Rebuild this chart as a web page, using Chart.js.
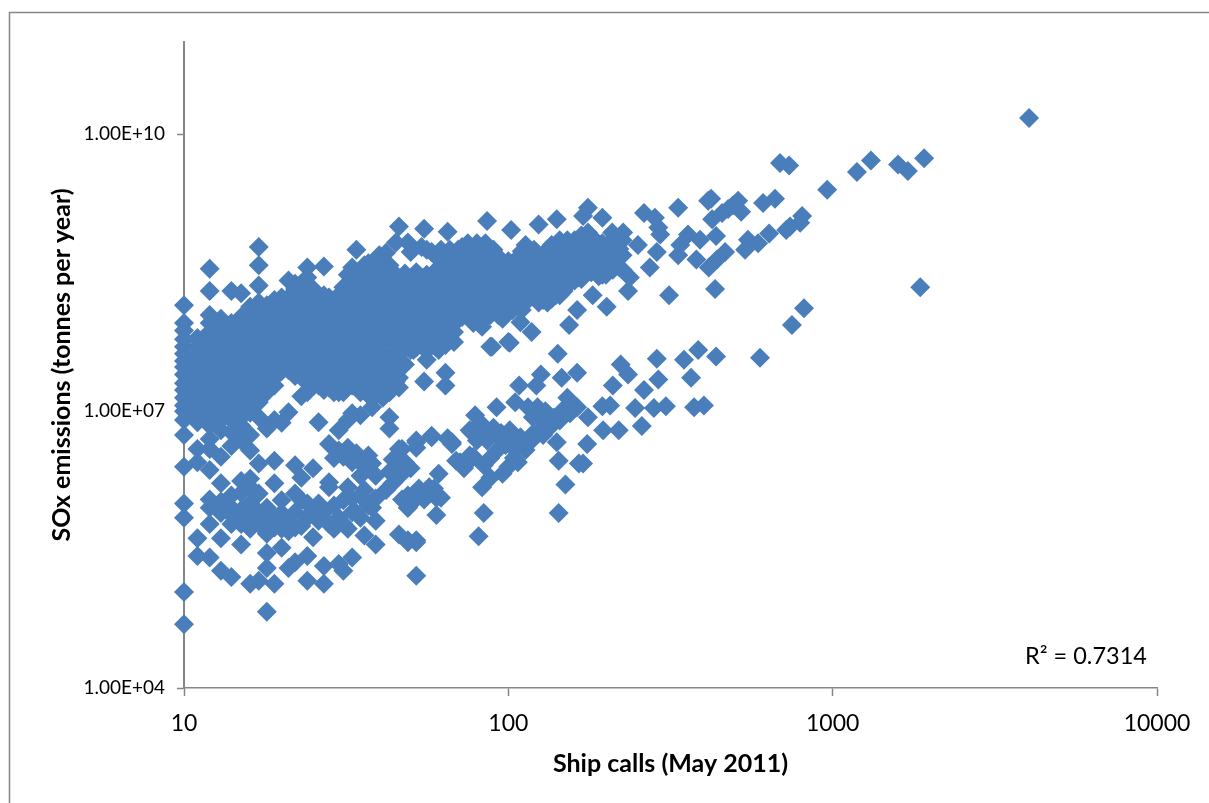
<!DOCTYPE html>
<html>
<head>
<meta charset="utf-8">
<title>SOx emissions vs ship calls</title>
<script src="https://cdn.jsdelivr.net/npm/chart.js@4/dist/chart.umd.min.js"></script>
<style>
  html, body { margin: 0; padding: 0; background: #fff; }
  canvas { display: block; }
</style>
</head>
<body>
<canvas id="myChart" width="1209" height="803"></canvas>
<script>
// values: [ship calls, tonnes per year]
var xTicks = [10, 100, 1000, 10000];
var yTicks = [1e4, 1e7, 1e10];
var xTitle = "Ship calls (May 2011)";
var yTitle = "SOx emissions (tonnes per year)";
var rSquared = "R² = 0.7314";

var farRight = [
  [4033,1.5e10],[1914,5.5e9],[1312,5.2e9],[1591,4.7e9],[1706,4e9],[1188,3.9e9],[962,2.5e9],[688,4.9e9],[734,4.6e9],
  [664,2e9],[511,1.9e9],[493,1.7e9],[476,1.55e9],[522,1.45e9],[456,1.4e9],[422,2e9],[413,1.9e9],[425,1.2e9],[610,1.8e9],
  [805,1.3e9],[794,1.1e9],[739,1e9],[637,8.4e8],[719,9.2e8],[437,7.9e8],[548,7.2e8],[537,5.6e8],[589,6.6e8],[390,7.2e8],
  [466,5.3e8],[440,4.4e8],[415,3.6e8],[380,4.4e8],[434,2.1e8],[1862,2.2e8],[816,1.3e8],[749,8.6e7],[597,3.8e7],[437,3.9e7]
];

var upperSparse = [
  [86,1.15e9],[102,9.2e8],[124,1.05e9],[141,1.2e9],[176,1.6e9],[170,1.3e9],[195,1.25e9],[262,1.4e9],[283,1.25e9],[334,1.6e9],
  [290,9.8e8],[294,8.2e8],[358,8.2e8],[339,6.3e8],[334,4.9e8],[287,5.3e8],[273,3.6e8],[251,6.3e8],[226,8.6e8],[209,8.6e8],
  [237,2.8e8],[234,2e8],[182,1.8e8],[201,1.35e8],[163,1.25e8],[154,8.6e7],[313,1.8e8],[109,9.2e7],[118,7.2e7],[100,5.6e7],
  [88,5e7],[96,1e8],[83,8.2e7],[46,1e9],[55,9.5e8],[65,8.8e8],[34,5.6e8],[17,6e8],[17,3.8e8],[12,3.5e8],[17,2.3e8],[12,2e8],
  [14,2e8],[15,1.9e8],[10,1.4e8],[27,3.7e8],[24,3.6e8],[21,2.6e8],[19,1.6e8],[12,1.1e8],[10,9e7],[45,6.7e8],[49,6.7e8],
  [42,5.2e8],[37,4e8],[33,3.6e8],[24,2.8e8],[22,2.4e8],[25,2.1e8],[28,1.7e8],[21,1.7e8],[16,1.35e8],[15,1.05e8],[14,9e7]
];

var denseBand = [
  [10,7.5e7],[10,6e7],[10,5e7],[10,4.2e7],[10,3.5e7],[10,3e7],[10,2.5e7],[10,2e7],[10,1.7e7],[10,1.4e7],[10,1.15e7],[10,1e7],[10,8e6],[10,5.5e6],
  [11,5.9e7],[11,4.9e7],[11,3.4e7],[11,2.8e7],[11,1.9e7],[11,1.5e7],[11,1.05e7],[11,7.6e6],
  [12,9e7],[12,6e7],[12,4.5e7],[12,3e7],[12,2.2e7],[12,1.5e7],[12,1e7],[12,7e6],
  [13,1e8],[13,7e7],[13,4.8e7],[13,3.3e7],[13,2.3e7],[13,1.6e7],[13,1.1e7],[13,8e6],
  [14,6.2e7],[14,4.3e7],[14,2.9e7],[14,2e7],[14,1.4e7],[14,9.5e6],
  [15,7.8e7],[15,5.4e7],[15,3.7e7],[15,2.5e7],[15,1.7e7],[15,1.2e7],[15,8.5e6],
  [16,9.2e7],[16,6.3e7],[16,4.3e7],[16,3e7],[16,2e7],[16,1.4e7],[16,9.6e6],
  [17,1.5e8],[17,1e8],[17,7e7],[17,4e7],[17,3.2e7],[17,2.2e7],[17,1.5e7],
  [18,1.4e8],[18,9.5e7],[18,6.7e7],[18,4.6e7],[18,3.1e7],[18,2.2e7],[18,1.6e7],
  [19,1.05e8],[19,7.2e7],[19,4.9e7],[19,3.4e7],[19,2.3e7],
  [20,1.7e8],[20,1.15e8],[20,8e7],[20,5.5e7],[20,3.8e7],[20,2.7e7],
  [21,1.25e8],[21,8.6e7],[21,5.9e7],[21,4e7],[21,2.8e7],
  [22,2.1e8],[22,1.45e8],[22,1e8],[22,6.7e7],[22,4.6e7],[22,3.1e7],[22,2.4e7],
  [23,2.4e8],[23,1.65e8],[23,1.15e8],[23,7.8e7],[23,5.2e7],[23,3.6e7],[23,2.5e7],
  [24,1.8e8],[24,1.25e8],[24,8.6e7],[24,5.9e7],[24,4e7],[24,2.8e7],[24,2e7],
  [25,1.9e8],[25,1.3e8],[25,9e7],[25,6.2e7],[25,4.3e7],[25,3e7],[25,2.1e7],
  [26,1.7e8],[26,1.2e8],[26,8.2e7],[26,5.6e7],[26,3.9e7],[26,2.7e7],[26,1.9e7],
  [27,1.8e8],[27,1.25e8],[27,8.6e7],[27,5.9e7],[27,4e7],[27,2.8e7],[27,1.9e7],[27,1.7e7],
  [28,1.15e8],[28,7.8e7],[28,5.4e7],[28,3.7e7],[28,2.6e7],[28,1.8e7],
  [30,1.8e8],[30,1.25e8],[30,8.6e7],[30,5.9e7],[30,4e7],[30,2.8e7],[30,1.9e7],
  [32,3e8],[32,2.1e8],[32,1.45e8],[32,1e8],[32,6.8e7],[32,4.6e7],[32,3.2e7],[32,2.2e7],
  [34,2.5e8],[34,1.7e8],[34,1.2e8],[34,8e7],[34,5.5e7],[34,3.8e7],[34,2.6e7],[34,1.8e7],
  [36,3.8e8],[36,2.6e8],[36,1.8e8],[36,1.25e8],[36,8.6e7],[36,5.9e7],[36,4e7],[36,2.8e7],[36,1.9e7],
  [38,2.8e8],[38,1.9e8],[38,1.3e8],[38,9e7],[38,6.2e7],[38,4.2e7],[38,3e7],[38,2e7],[38,1.6e7],
  [40,4.9e8],[40,3.4e8],[40,2.3e8],[40,1.6e8],[40,1.1e8],[40,7.6e7],[40,5.2e7],[40,3.6e7],[40,2.5e7],[40,1.7e7],
  [43,3.8e8],[43,2.6e8],[43,1.8e8],[43,1.25e8],[43,8.6e7],[43,5.9e7],[43,4e7],[43,2.8e7],[43,1.9e7],[43,1.6e7],
  [46,2.3e8],[46,1.6e8],[46,1.1e8],[46,7.4e7],[46,5e7],[46,3.6e7],
  [50,5.3e8],[50,2.5e8],[50,1.7e8],[50,1.15e8],[50,8e7],[50,5.5e7],[50,4.6e7],
  [54,6e8],[54,2.8e8],[54,1.9e8],[54,1.3e8],[54,9e7],[54,6.2e7],[54,5.2e7],
  [58,5.3e8],[58,3e8],[58,2.1e8],[58,1.45e8],[58,1e8],[58,6.8e7],[58,5.7e7],
  [62,5.6e8],[62,3.8e8],[62,2.6e8],[62,1.8e8],[62,1.25e8],[62,8.6e7],[62,5.9e7],
  [66,5.6e8],[66,3.6e8],[66,2.5e8],[66,1.7e8],[66,1.15e8],[66,8e7],
  [70,5.6e8],[70,3.8e8],[70,2.6e8],[70,1.8e8],[70,1.25e8],[70,9.8e7],
  [75,6.6e8],[75,4.6e8],[75,3.1e8],[75,2.1e8],[75,1.45e8],[75,1.1e8],
  [80,6.6e8],[80,4.3e8],[80,3e8],[80,2e8],[80,1.4e8],[80,1.05e8],
  [85,6.6e8],[85,4.6e8],[85,3.1e8],[85,2.1e8],[85,1.45e8],[85,1.1e8],
  [90,5.6e8],[90,3.8e8],[90,2.6e8],[90,1.8e8],[90,1.25e8],
  [95,4.1e8],[95,2.8e8],[95,1.9e8],[95,1.3e8],
  [100,4.2e8],[100,2.9e8],[100,2e8],[100,1.4e8],
  [107,4.6e8],[107,3.1e8],[107,2.1e8],[107,1.45e8],
  [113,6.3e8],[113,4.3e8],[113,3e8],[113,2e8],[113,1.6e8],
  [120,5.6e8],[120,3.8e8],[120,2.6e8],[120,1.8e8],
  [128,4.9e8],[128,3.4e8],[128,2.3e8],[128,1.6e8],
  [136,6.3e8],[136,4.3e8],[136,3e8],[136,2e8],[136,1.65e8],
  [144,7.1e8],[144,4.9e8],[144,3.4e8],[144,2.3e8],[144,1.8e8],
  [152,7.1e8],[152,4.9e8],[152,3.4e8],[152,2.3e8],
  [160,7.1e8],[160,4.7e8],[160,3.2e8],[160,2.6e8],
  [168,8e8],[168,5.6e8],[168,3.8e8],[168,2.7e8],
  [176,8.6e8],[176,5.9e8],[176,4.1e8],[176,3.4e8],
  [185,7.1e8],[185,4.9e8],[185,3.4e8],
  [195,6.6e8],[195,4.6e8],[195,3e8],
  [205,6.6e8],[205,4.2e8],
  [215,7.1e8],[215,4.4e8],
  [225,7.1e8],[225,4.9e8],[225,3.4e8]
];

var denseBandExtra = [
  [11,6.2e7],[11,4e7],[11,2.3e7],[11,1.7e7],[11,1.2e7],[11,9e6],
  [12,7.2e7],[12,5.2e7],[12,3.6e7],[12,2.6e7],[12,1.8e7],[12,1.25e7],[12,8.5e6],
  [13,8.3e7],[13,5.8e7],[13,4e7],[13,2.8e7],[13,1.9e7],[13,1.3e7],[13,9.3e6],
  [14,7.4e7],[14,5.2e7],[14,3.6e7],[14,2.4e7],[14,1.7e7],[14,1.15e7],[14,8e6],
  [15,9.4e7],[15,6.5e7],[15,4.5e7],[15,3.1e7],[15,2.1e7],[15,1.45e7],[15,1e7],
  [16,1.1e8],[16,7.6e7],[16,5.2e7],[16,3.6e7],[16,2.4e7],[16,1.7e7],[16,1.15e7],
  [17,1.2e8],[17,8.5e7],[17,5.6e7],[17,2.6e7],[17,1.8e7],[17,1.25e7],
  [18,1.15e8],[18,8e7],[18,5.6e7],[18,3.8e7],[18,2.6e7],
  [19,1.25e8],[19,8.6e7],[19,5.9e7],[19,4e7],[19,2.8e7],[19,1.9e7],
  [20,1.4e8],[20,9.6e7],[20,6.5e7],[20,4.5e7],[20,3.1e7],
  [21,1.05e8],[21,7.2e7],[21,4.9e7],[21,3.4e7],
  [29,1.5e8],[29,1.05e8],[29,7.2e7],[29,4.9e7],[29,3.4e7],[29,2.3e7],[29,1.6e7],
  [31,2.2e8],[31,1.5e8],[31,1.05e8],[31,7.2e7],[31,4.9e7],[31,3.4e7],[31,2.3e7],[31,1.6e7],
  [33,2.6e8],[33,1.8e8],[33,1.25e8],[33,8.6e7],[33,5.9e7],[33,4e7],[33,2.8e7],[33,1.9e7],
  [35,3.2e8],[35,2.2e8],[35,1.5e8],[35,1.05e8],[35,7.2e7],[35,4.9e7],[35,3.4e7],[35,2.3e7],[35,1.6e7],
  [37,3.1e8],[37,2.1e8],[37,1.45e8],[37,1e8],[37,6.8e7],[37,4.7e7],[37,3.2e7],[37,2.2e7],[37,1.5e7],
  [39,4.2e8],[39,2.9e8],[39,2e8],[39,1.4e8],[39,9.6e7],[39,6.5e7],[39,4.5e7],[39,3.1e7],[39,2.1e7],[39,1.5e7],
  [41,4e8],[41,2.8e8],[41,1.9e8],[41,1.3e8],[41,9e7],[41,6.2e7],[41,4.2e7],[41,3e7],[41,2e7],[41,1.4e7],
  [45,3e8],[45,2.1e8],[45,1.4e8],[45,9.6e7],[45,6.5e7],[45,4.5e7],[45,3.1e7],[45,2.1e7],
  [48,3.1e8],[48,2.1e8],[48,1.45e8],[48,1e8],[48,6.8e7],[48,4.7e7],[48,3.2e7],
  [52,3.2e8],[52,2.2e8],[52,1.5e8],[52,1.05e8],[52,7.2e7],[52,4.9e7],
  [56,5.6e8],[56,3e8],[56,2.1e8],[56,1.4e8],[56,9.6e7],[56,6.5e7],[56,4.5e7],
  [60,4.7e8],[60,3.2e8],[60,2.2e8],[60,1.5e8],[60,1.05e8],[60,7.2e7],[60,4.9e7],
  [64,4.7e8],[64,3.2e8],[64,2.2e8],[64,1.5e8],[64,1.05e8],[64,7.2e7],[64,5.2e7],
  [68,4.7e8],[68,3.2e8],[68,2.2e8],[68,1.5e8],[68,1.05e8],[68,7.2e7],
  [72,6e8],[72,4.7e8],[72,3.2e8],[72,2.2e8],[72,1.5e8],[72,1.05e8],
  [78,5.6e8],[78,3.8e8],[78,2.6e8],[78,1.8e8],[78,1.25e8],[78,9e7],
  [83,5.6e8],[83,3.8e8],[83,2.6e8],[83,1.8e8],[83,1.25e8],[83,9.6e7],
  [88,5.2e8],[88,3.4e8],[88,2.3e8],[88,1.6e8],[88,1.1e8],
  [93,4.7e8],[93,3.2e8],[93,2.2e8],[93,1.5e8],[93,1.1e8],
  [98,3.4e8],[98,2.3e8],[98,1.6e8],[98,1.15e8],
  [103,3.8e8],[103,2.6e8],[103,1.8e8],[103,1.25e8],
  [110,5.4e8],[110,3.7e8],[110,2.5e8],[110,1.7e8],[110,1.25e8],
  [116,5.2e8],[116,3.5e8],[116,2.4e8],[116,1.65e8],
  [124,4.6e8],[124,3.1e8],[124,2.1e8],[124,1.5e8],
  [132,5.6e8],[132,3.8e8],[132,2.6e8],[132,1.8e8],[132,1.5e8],
  [140,5.6e8],[140,3.8e8],[140,2.6e8],[140,1.8e8],
  [148,6e8],[148,4.1e8],[148,2.8e8],[148,2e8],
  [156,6e8],[156,4.1e8],[156,2.8e8],
  [164,5.8e8],[164,3.9e8],[164,2.8e8],
  [172,7e8],[172,4.7e8],[172,3.2e8],
  [180,6.6e8],[180,4.6e8],[180,3.2e8],
  [190,5.6e8],[190,3.8e8],[190,2.9e8],
  [200,5.6e8],[200,3.8e8],[200,3e8],
  [210,5.4e8],[210,3.4e8],
  [220,5.7e8],[220,3.6e8]
];

var middleBand = [
  [385,4.6e7],[348,3.6e7],[366,2.3e7],[374,1.1e7],[401,1.15e7],[287,3.7e7],[290,2.2e7],[262,1.7e7],[306,1.13e7],[281,1.08e7],
  [246,1.08e7],[258,6.9e6],[219,6.2e6],[196,6.2e6],[234,2.5e7],[222,3.2e7],[210,1.9e7],[195,1.13e7],[206,1.15e7],[176,8.6e6],
  [175,4.4e6],[163,2.6e7],[146,2.3e7],[142,4.2e7],[126,2.5e7],[122,1.9e7],[108,1.9e7],[105,1.25e7],[92,1.1e7],[163,1.1e7],
  [152,1.4e7],[152,1.1e7],[144,7.9e6],[132,9.4e6],[123,1.1e7],[119,8.6e6],[115,1.1e7],[141,4.6e6],[128,5.5e6],[143,2.9e6],
  [165,2.7e6],[170,2.7e6],[150,1.6e6],[143,7.9e5],[84,7.9e5],[81,4.4e5],[83,1.5e6],[96,2.1e6],[88,1.9e6],[84,2.6e6],[73,2.5e6],
  [69,2.9e6],[78,3.2e6],[104,3.1e6],[104,3.9e6],[111,4.5e6],[119,5.7e6],[101,6.2e6],[109,5.2e6],[94,5.2e6],[90,6.6e6],[86,4.8e6],
  [79,9e6],[82,7.5e6],[76,6.2e6],[80,4.8e6],[88,3.1e6],[67,4.6e6],[65,5.1e6],[58,5.2e6],[52,4.6e6],[47,3.9e6],[61,2.1e6],[57,1.5e6],
  [60,1.15e6],[49,9e5],[60,7.5e5],[52,4e5],[49,4e5],[55,2.1e7],[64,2.6e7],[64,1.9e7],[61,4.6e7],[68,5.6e7],[89,5e7],[101,5.5e7],
  [56,3.6e7],[51,4.6e7],[46,2.3e7],[46,1.8e7],
  [85,6e6],[95,5.8e6],[98,4.3e6],[92,3.7e6],[102,4.7e6],[113,3.8e6],[107,2.8e6],[100,2.5e6],[118,4.8e6],[125,6.2e6],[130,6.6e6],
  [135,6.8e6],[126,8e6],[138,8.5e6],[155,9.5e6],[146,1e7],[130,1e7]
];

var lowerLeft = [
  [10,2.5e6],[10,1e6],[10,7e5],[10,1.1e5],[10,4.9e4],[18,6.7e4],[52,1.65e5],[24,1.45e5],[27,1.35e5],[19,1.35e5],[16,1.35e5],[17,1.45e5],
  [14,1.6e5],[13,1.87e5],[12,2.6e5],[11,2.7e5],[11,4.2e5],[11,3.9e6],[12,2.3e6],[11,2.8e6],[13,1.65e6],[15,1.75e6],[16,1.85e6],[17,2.7e6],
  [19,2.9e6],[19,1.65e6],[22,2.6e6],[25,2.4e6],[23,1.9e6],[28,1.7e6],[28,4.4e6],[30,6.2e6],[26,7.6e6],[30,3.75e6],[34,3.5e6],[29,3.1e6],
  [36,2.5e6],[38,2.7e6],[39,2e6],[35,2e6],[46,3.9e6],[52,4e6],[52,4.8e6],[58,5.4e6],[65,5e6],[67,4.4e6],[71,2.8e6],[73,2.4e6],[76,3.3e6],
  [77,5.9e6],[45,2.4e6],[50,2.4e6],[44,1.65e6],[53,1.45e6],[49,1.22e6],[59,1.45e6],[62,1.15e6],[49,9e5],[52,1.13e6],[46,4.6e5],[49,3.8e5],
  [52,3.8e5],[39,3.6e5],[36,4.5e5],[39,6.5e5],[39,1.13e6],[37,9.5e5],[34,7.9e5],[33,1.13e6],[31,1.08e6],[32,5.3e5],[29,5.3e5],[25,4.3e5],
  [23,5.7e5],[26,6.5e5],[25,8.4e5],[23,1.08e6],[28,1.5e6],[26,1e6],[22,1.28e6],[20,1.08e6],[17,1.28e6],[16,1e6],[14,1.22e6],[12,9e5],
  [13,7.9e5],[12,6e5],[13,4.2e5],[15,3.6e5],[14,6e5],[16,5.3e5],[18,4.7e5],[20,5.3e5],[20,3.3e5],[18,2.9e5],[18,2e5],[24,2.7e5],[22,2.3e5],
  [21,2e5],[27,2.1e5],[30,2.2e5],[31,1.87e5],[33,2.6e5],[20,7.9e5],[12,5e6],[13,6.2e6],[14,5.9e6],[15,7e6],[16,5.5e6],[16,3.75e6],[13,3.2e6],
  [12,3.9e6],[15,4.8e6],[14,4.2e6],[18,6.5e6],[20,7.5e6],[32,8e6],[43,6.5e6],[21,9.7e6],[17,8.6e6],[19,8e6],[23,1.45e7],[24,1.6e7],[30,1.6e7],
  [33,9.5e6],[35,9e6],[43,8.6e6],[38,1.1e7],
  [12,1.1e6],[13,1.05e6],[13,9e5],[14,9e5],[14,7.5e5],[15,8.5e5],[15,6e5],[16,7e5],[17,8e5],[17,6e5],[18,9e5],[18,6.5e5],[19,7e5],[19,5.5e5],
  [21,6.5e5],[21,5e5],[22,8e5],[22,5.5e5],[24,7e5],[24,1e6],[27,8e5],[28,6e5],[29,9.5e5],[30,7e5],[31,6e5],[32,1.5e6],[33,8e5],[35,1.2e6],
  [35,7e5],[36,1.4e6],[38,9e5],[16,1.5e6],[15,1.3e6],[42,1.4e6],[47,1.1e6],[55,1.1e6],[57,1.3e6],[31,3.2e6],[32,4e6],[33,2.8e6],[35,3e6],
  [37,3.3e6],[38,2.2e6],[43,2.2e6],[47,2.1e6],[48,2.8e6],[44,3e6]
];

var allPoints = farRight.concat(upperSparse, denseBand, denseBandExtra, middleBand, lowerLeft).map(function (p) {
  return { x: p[0], y: p[1] };
});

// outer frame and the R² label
var extras = {
  id: "extras",
  beforeDraw: function (chart) {
    var ctx = chart.ctx;
    ctx.save();
    ctx.fillStyle = "#fff";
    ctx.fillRect(0, 0, chart.width, chart.height);
    ctx.strokeStyle = "#868686";
    ctx.lineWidth = 1.5;
    ctx.strokeRect(9.5, 12.5, 1400, 1000);
    ctx.restore();
  },
  afterDraw: function (chart) {
    var ctx = chart.ctx;
    ctx.save();
    ctx.fillStyle = "#000";
    ctx.font = "23.5px Lato";
    ctx.textAlign = "left";
    ctx.textBaseline = "middle";
    ctx.fillText(rSquared, 1025, 656);
    ctx.restore();
  }
};

new Chart(document.getElementById("myChart").getContext("2d"), {
  type: "scatter",
  data: {
    datasets: [{
      data: allPoints,
      pointStyle: "rectRot",
      pointRadius: 10,
      pointBackgroundColor: "#4a7ebb",
      pointBorderWidth: 0,
      clip: false
    }]
  },
  options: {
    responsive: false,
    animation: false,
    layout: { padding: { top: 42, right: 52, left: 0, bottom: 0 } },
    plugins: { legend: { display: false }, tooltip: { enabled: false } },
    scales: {
      x: {
        type: "logarithmic",
        min: 10,
        max: 10000,
        afterBuildTicks: function (scale) {
          scale.ticks = xTicks.map(function (v) { return { value: v }; });
        },
        afterFit: function (scale) { scale.height = 115; },
        grid: { drawOnChartArea: false, drawTicks: true, tickLength: 8, tickColor: "#868686", tickWidth: 1.5 },
        border: { color: "#868686", width: 1.5 },
        ticks: {
          autoSkip: false,
          maxRotation: 0,
          color: "#000",
          padding: 14,
          font: { family: "Lato", size: 23 },
          callback: function (v) { return String(v); }
        },
        title: {
          display: true,
          text: xTitle,
          color: "#000",
          padding: { top: 0, bottom: 24 },
          font: { family: "Lato", size: 25, weight: "bold" }
        }
      },
      y: {
        type: "logarithmic",
        min: 1e4,
        max: 1e11,
        afterBuildTicks: function (scale) {
          scale.ticks = yTicks.map(function (v) { return { value: v }; });
        },
        afterFit: function (scale) { scale.width = 184; },
        grid: { drawOnChartArea: false, drawTicks: true, tickLength: 7, tickColor: "#868686", tickWidth: 1.5 },
        border: { color: "#868686", width: 2 },
        ticks: {
          autoSkip: false,
          color: "#000",
          padding: 12,
          font: { family: "Lato", size: 19 },
          callback: function (v) {
            var parts = Number(v).toExponential(2).split("e+");
            return parts[0] + "E+" + (parts[1].length < 2 ? "0" : "") + parts[1];
          }
        },
        title: {
          display: true,
          text: yTitle,
          color: "#000",
          padding: { top: 47, bottom: 0 },
          font: { family: "Lato", size: 25, weight: "bold" }
        }
      }
    }
  },
  plugins: [extras]
});
</script>
</body>
</html>
